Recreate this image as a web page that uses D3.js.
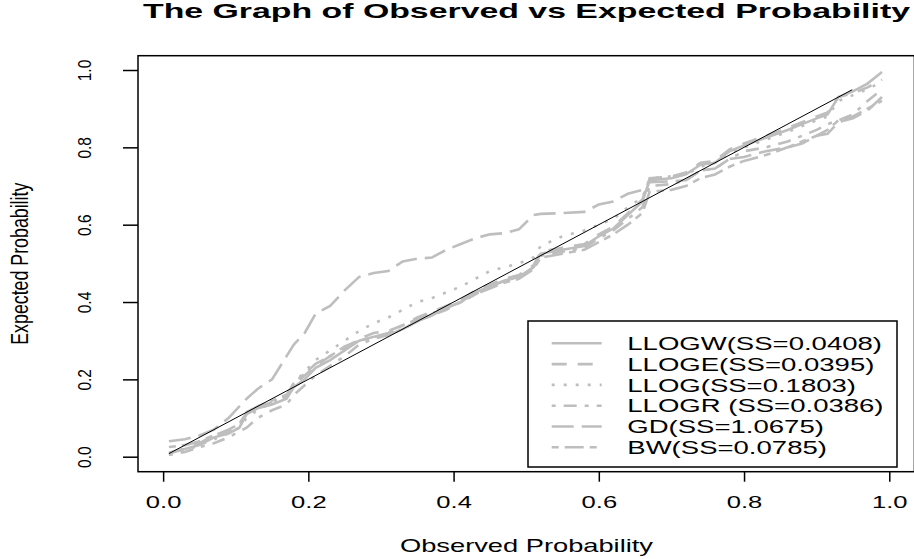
<!DOCTYPE html>
<html>
<head>
<meta charset="utf-8">
<script src="https://cdn.jsdelivr.net/npm/d3@7"></script>
<style>
  body { margin: 0; background: #fff; }
  text { font-family: "Liberation Sans", Arial, sans-serif; fill: #000; }
</style>
</head>
<body>
<svg id="chart" width="914" height="559"></svg>
<script>
// observed probabilities (shared by every model) and the expected ones per model
var observed = [0.008,0.03,0.05,0.07,0.09,0.105,0.115,0.13,0.15,0.17,0.18,0.195,0.21,0.23,0.25,0.27,0.29,0.31,0.33,0.35,
  0.37,0.39,0.41,0.43,0.45,0.47,0.49,0.51,0.52,0.55,0.58,0.6,0.62,0.64,0.66,0.67,0.7,0.72,0.74,0.76,
  0.78,0.8,0.83,0.86,0.88,0.9,0.915,0.93,0.95,0.97,0.99];

var expLLOGW = [0.008,0.02,0.03,0.05,0.06,0.075,0.11,0.125,0.135,0.15,0.18,0.2,0.23,0.25,0.275,0.3,0.31,0.315,0.33,0.35,
  0.365,0.385,0.4,0.425,0.44,0.455,0.465,0.49,0.525,0.535,0.545,0.57,0.59,0.625,0.66,0.715,0.72,0.73,0.755,0.76,
  0.79,0.805,0.825,0.845,0.86,0.875,0.885,0.93,0.945,0.965,0.995];
var expLLOGE = [0.01,0.022,0.035,0.055,0.065,0.08,0.115,0.13,0.14,0.155,0.185,0.21,0.235,0.26,0.28,0.305,0.32,0.325,0.34,0.36,
  0.375,0.39,0.405,0.43,0.445,0.46,0.47,0.495,0.53,0.54,0.55,0.575,0.595,0.63,0.665,0.72,0.725,0.735,0.76,0.765,
  0.795,0.81,0.83,0.85,0.865,0.88,0.89,0.93,0.94,0.955,0.975];
var expLLOG = [0.005,0.015,0.03,0.045,0.06,0.075,0.1,0.12,0.14,0.16,0.19,0.22,0.25,0.275,0.3,0.325,0.345,0.36,0.38,0.4,
  0.41,0.425,0.44,0.46,0.48,0.49,0.5,0.515,0.545,0.57,0.585,0.6,0.615,0.645,0.67,0.72,0.725,0.73,0.75,0.76,
  0.785,0.8,0.82,0.84,0.855,0.87,0.88,0.92,0.935,0.95,0.97];
var expLLOGR = [0.005,0.012,0.025,0.035,0.05,0.065,0.075,0.1,0.12,0.135,0.16,0.185,0.21,0.235,0.26,0.29,0.305,0.315,0.33,0.35,
  0.365,0.38,0.4,0.42,0.44,0.455,0.465,0.49,0.52,0.53,0.54,0.565,0.585,0.615,0.645,0.7,0.705,0.715,0.74,0.745,
  0.77,0.79,0.8,0.815,0.83,0.845,0.86,0.87,0.885,0.92,0.95];
var expGD = [0.04,0.045,0.055,0.07,0.1,0.13,0.15,0.175,0.2,0.26,0.29,0.32,0.37,0.39,0.43,0.465,0.475,0.48,0.505,0.512,
  0.515,0.535,0.55,0.565,0.575,0.578,0.588,0.625,0.628,0.63,0.633,0.652,0.66,0.68,0.69,0.71,0.712,0.715,0.74,0.745,
  0.77,0.775,0.79,0.8,0.81,0.83,0.835,0.865,0.875,0.895,0.93];
var expBW = [0.025,0.03,0.04,0.055,0.07,0.085,0.115,0.13,0.145,0.16,0.19,0.215,0.24,0.26,0.285,0.3,0.31,0.32,0.34,0.355,
  0.37,0.385,0.4,0.42,0.435,0.45,0.46,0.485,0.515,0.525,0.535,0.555,0.575,0.6,0.63,0.685,0.69,0.7,0.72,0.73,
  0.75,0.765,0.78,0.8,0.815,0.83,0.845,0.87,0.88,0.9,0.92];

// reference diagonal (observed against observed)
var diagonal = [0.008, 0.949];

var seriesNames = ["LLOGW(SS=0.0408)", "LLOGE(SS=0.0395)", "LLOG(SS=0.1803)",
                   "LLOGR (SS=0.0386)", "GD(SS=1.0675)", "BW(SS=0.0785)"];
var seriesValues = [expLLOGW, expLLOGE, expLLOG, expLLOGR, expGD, expBW];
// R lty 1..6
var seriesDash = [null, "15,11", "3,9", "4,8,13,8", "22,8", "7,6,19,6"];

var xTicks = [0, 0.2, 0.4, 0.6, 0.8, 1.0];
var yTicks = [0, 0.2, 0.4, 0.6, 0.8, 1.0];

var svg = d3.select("#chart");
var plotLeft = 138, plotRight = 914.4, plotTop = 55.7, plotBottom = 471.7;
var grey = "#bebebe";

var x = d3.scaleLinear().domain([-0.0346, 1.0346]).range([plotLeft, plotRight]);
var y = d3.scaleLinear().domain([-0.0388, 1.037]).range([plotBottom, plotTop]);

// stretch horizontal text like the reference picture
function stretch(sel, k) {
  sel.each(function() {
    var w = this.getComputedTextLength();
    d3.select(this).attr("textLength", w * k).attr("lengthAdjust", "spacingAndGlyphs");
  });
}

// data lines
var line = d3.line()
  .x(function(d) { return x(d[0]); })
  .y(function(d) { return y(d[1]); });

var g = svg.append("g");
seriesValues.forEach(function(vals, i) {
  var pts = observed.map(function(o, j) { return [o, vals[j]]; });
  g.append("path")
    .datum(pts)
    .attr("d", line)
    .attr("fill", "none")
    .attr("stroke", grey)
    .attr("stroke-width", 2.6)
    .attr("stroke-dasharray", seriesDash[i]);
});

g.append("path")
  .datum(diagonal.map(function(d) { return [d, d]; }))
  .attr("d", line)
  .attr("fill", "none")
  .attr("stroke", "#000")
  .attr("stroke-width", 1);

// frame
svg.append("rect")
  .attr("x", plotLeft).attr("y", plotTop)
  .attr("width", plotRight - plotLeft).attr("height", plotBottom - plotTop)
  .attr("fill", "none").attr("stroke", "#000").attr("stroke-width", 1.5);

// x axis
var xAxis = svg.append("g")
  .attr("transform", "translate(0," + plotBottom + ")")
  .call(d3.axisBottom(x).tickValues(xTicks).tickSize(10).tickFormat(d3.format(".1f")));
xAxis.select(".domain").remove();
xAxis.selectAll("line").attr("stroke", "#000").attr("stroke-width", 1.5);
xAxis.selectAll("text")
  .attr("y", 36.5).attr("dy", null)
  .style("font-size", "16.5px")
  .style("font-family", "Liberation Sans, Arial, sans-serif")
  .call(stretch, 1.55);

// y axis
var yAxis = svg.append("g")
  .attr("transform", "translate(" + plotLeft + ",0)")
  .call(d3.axisLeft(y).tickValues(yTicks).tickSize(15).tickFormat(d3.format(".1f")));
yAxis.select(".domain").remove();
yAxis.selectAll("line").attr("stroke", "#000").attr("stroke-width", 1.5);
yAxis.selectAll("text")
  .attr("x", null).attr("dy", null)
  .attr("text-anchor", "middle")
  .attr("transform", "translate(-47,0) rotate(-90) scale(1,1.15)")
  .style("font-size", "15.5px")
  .style("font-family", "Liberation Sans, Arial, sans-serif");

// titles
svg.append("text")
  .attr("x", 526.5).attr("y", 18.3)
  .attr("text-anchor", "middle")
  .style("font-size", "21px").style("font-weight", "bold")
  .attr("textLength", 767).attr("lengthAdjust", "spacingAndGlyphs")
  .text("The Graph of Observed vs Expected Probability");

svg.append("text")
  .attr("x", 526.5).attr("y", 551.7)
  .attr("text-anchor", "middle")
  .style("font-size", "19px")
  .attr("textLength", 253).attr("lengthAdjust", "spacingAndGlyphs")
  .text("Observed Probability");

svg.append("text")
  .attr("transform", "translate(28.3," + ((plotTop + plotBottom) / 2) + ") rotate(-90) scale(1,1.3)")
  .attr("text-anchor", "middle")
  .style("font-size", "17.8px")
  .text("Expected Probability");

// legend
var legend = svg.append("g");
legend.append("rect")
  .attr("x", 528).attr("y", 321)
  .attr("width", 369).attr("height", 146)
  .attr("fill", "#fff").attr("stroke", "#000").attr("stroke-width", 1.5);

var rowY = d3.scaleLinear().domain([0, 5]).range([343.3, 447.3]);
seriesNames.forEach(function(name, i) {
  legend.append("line")
    .attr("x1", 551.7).attr("x2", 601.7)
    .attr("y1", rowY(i)).attr("y2", rowY(i))
    .attr("stroke", grey).attr("stroke-width", 2.6)
    .attr("stroke-dasharray", seriesDash[i]);
  legend.append("text")
    .attr("x", 627.3).attr("y", rowY(i) + 6.7)
    .style("font-size", "18.6px")
    .text(name)
    .call(stretch, 1.48);
});
</script>
</body>
</html>
